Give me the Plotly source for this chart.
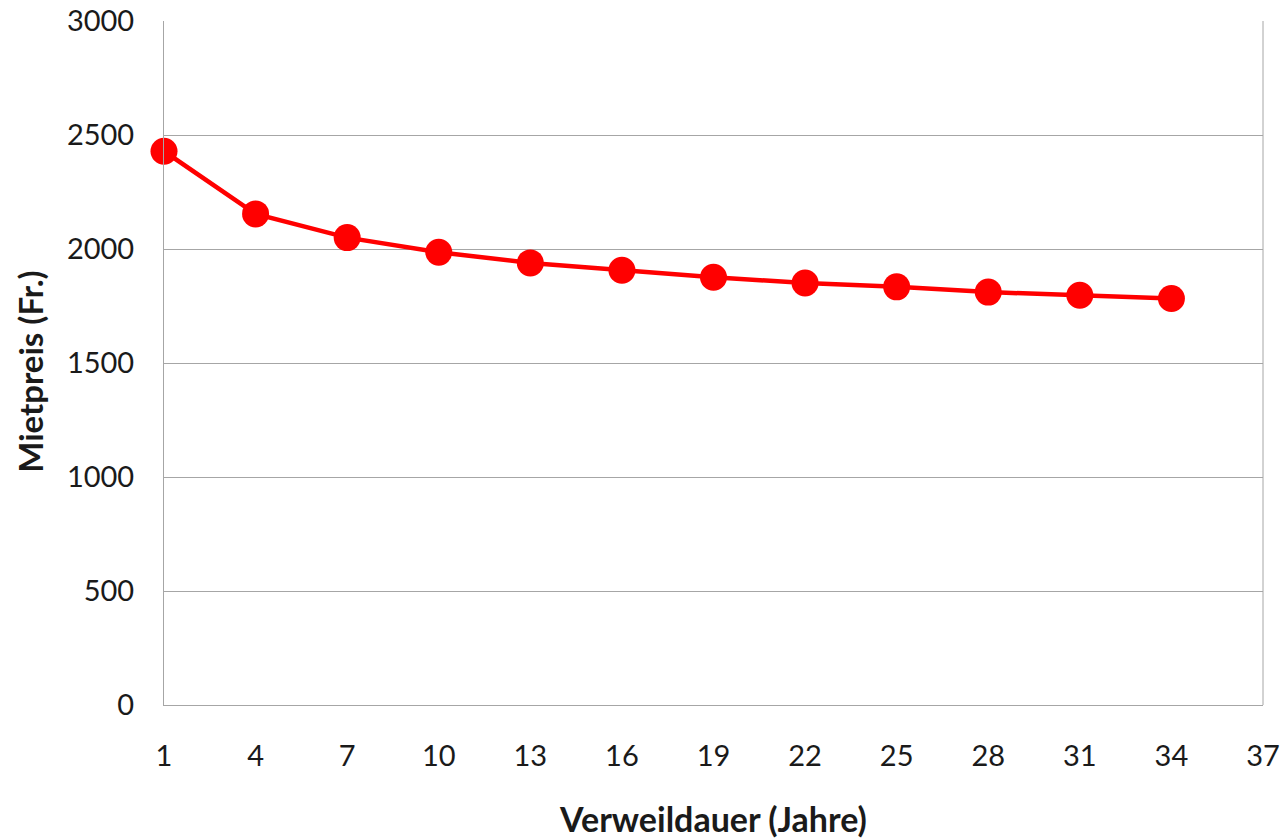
import plotly.graph_objects as go

jahre = [1, 4, 7, 10, 13, 16, 19, 22, 25, 28, 31, 34]
mietpreis = [2429, 2154, 2050, 1986, 1939, 1907, 1876, 1851, 1834, 1811, 1797, 1783]
x_ticks = [1, 4, 7, 10, 13, 16, 19, 22, 25, 28, 31, 34, 37]
y_ticks = [0, 500, 1000, 1500, 2000, 2500, 3000]

fig = go.Figure()
fig.add_trace(go.Scatter(
    x=jahre, y=mietpreis, mode="lines+markers",
    line=dict(color="#FF0000", width=4.5),
    marker=dict(color="#FF0000", size=27),
    cliponaxis=False, showlegend=False,
))

font_fam = "Lato, Open Sans, sans-serif"
fig.update_layout(
    width=1283, height=839,
    margin=dict(l=164, r=20, t=21, b=134, autoexpand=False),
    paper_bgcolor="white", plot_bgcolor="white",
    font=dict(family=font_fam, color="#1a1a1a", size=28),
    xaxis=dict(
        range=[1, 37], tickvals=x_ticks, ticktext=[str(v) for v in x_ticks],
        showgrid=False, zeroline=False, showline=True, linecolor="#A6A6A6", linewidth=1,
        ticks="", ticklabelstandoff=25, automargin=False,
        title=dict(text="<b>Verweildauer (Jahre)</b>", font=dict(size=34, family=font_fam), standoff=38),
        tickfont=dict(size=29),
    ),
    yaxis=dict(
        range=[0, 3000], tickvals=y_ticks, ticktext=[str(v) for v in y_ticks],
        showgrid=True, gridcolor="#A6A6A6", gridwidth=1,
        zeroline=False, showline=True, linecolor="#A6A6A6", linewidth=1,
        ticks="", ticklabelstandoff=23, automargin=False,
        tickfont=dict(size=29),
    ),
    annotations=[dict(
        text="<b>Mietpreis (Fr.)</b>", xref="paper", yref="paper",
        x=-0.122, y=0.487, xanchor="center", yanchor="middle",
        textangle=-90, showarrow=False, font=dict(size=33, family=font_fam, color="#1a1a1a"),
    )],
)
fig.add_shape(type="line", xref="paper", yref="paper", x0=1, x1=1, y0=0, y1=1,
              line=dict(color="#A6A6A6", width=1), layer="below")

fig.write_html("out.html")
